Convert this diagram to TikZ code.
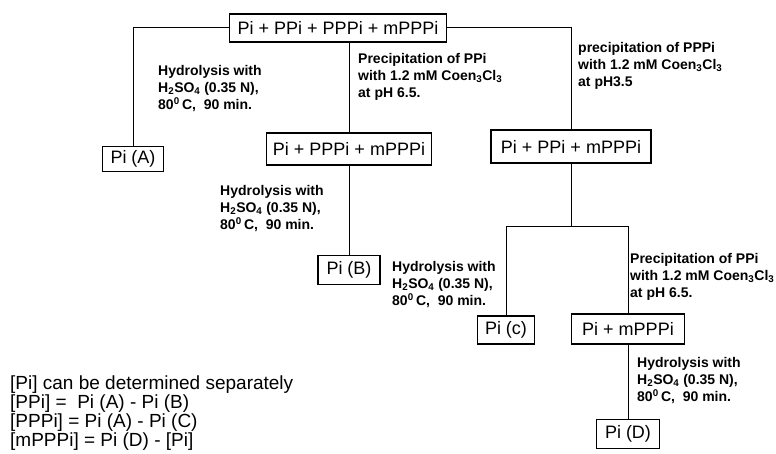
\documentclass[tikz,border=0pt]{standalone}
\usepackage{fontspec}
\setmainfont{Liberation Sans}
\usetikzlibrary{positioning}
\tikzset{
	box/.style={rectangle, draw=black, line width=1.1pt, inner sep=0pt, align=center, font=\fontsize{18}{18}\selectfont},
	note/.style={inner sep=0pt, anchor=north west, align=left, font=\fontsize{14}{17}\selectfont\bfseries},
	formula/.style={inner sep=0pt, anchor=north west, align=left, font=\fontsize{19}{17.5}\selectfont},
	wire/.style={line width=1pt, draw=black},
}
\newcommand{\hydro}{Hydrolysis with\\H\textsubscript{2}SO\textsubscript{4} (0.35 N),\\80\textsuperscript{0}\,C,\ \ 90 min.}

\begin{document}
\begin{tikzpicture}[x=1pt, y=-1pt]
		\useasboundingbox (0,0) rectangle (776,454);
		\node[box, minimum width=217pt, minimum height=28pt] (t) at (338,28) {Pi + PPi + PPPi + mPPPi};
		\node[box, minimum width=61pt, minimum height=25pt] (pa) at (133,159) {Pi (A)};
		\node[box, minimum width=165pt, minimum height=32pt] (b1) at (349,149) {Pi + PPPi + mPPPi};
		\node[box, minimum width=160pt, minimum height=33pt] (c1) at (571,146.5) {Pi + PPi + mPPPi};
		\node[box, minimum width=62pt, minimum height=29pt, below=89pt of b1] (pb) {Pi (B)};
		\node[box, minimum width=57pt, minimum height=28pt] (pc) at (506,330) {Pi (c)};
		\node[box, minimum width=113pt, minimum height=30pt] (d1) at (628,329) {Pi + mPPPi};
		\node[box, minimum width=63pt, minimum height=29pt, below=74pt of d1] (pd) {Pi (D)};
		\coordinate[below=63pt of c1.south] (split);
		\node[note] (h1) at (158,65) {\hydro};
		\node[note] (p1) at (358,53) {Precipitation of PPi\\with 1.2 mM Coen\textsubscript{3}Cl\textsubscript{3}\\at pH 6.5.};
		\node[note] (p2) at (578,42) {precipitation of PPPi\\with 1.2 mM Coen\textsubscript{3}Cl\textsubscript{3}\\at pH3.5};
		\node[note] (h2) at (220,185) {\hydro};
		\node[note] (h3) at (392,261) {\hydro};
		\node[note] (p3) at (630,253) {Precipitation of PPi\\with 1.2 mM Coen\textsubscript{3}Cl\textsubscript{3}\\at pH 6.5.};
		\node[note] (h4) at (637,357) {\hydro};
		\node[formula] (res) at (10,376) {[Pi] can be determined separately\\{}[PPi] =\ \ Pi (A) - Pi (B)\\{}[PPPi] = Pi (A) - Pi (C)\\{}[mPPPi] = Pi (D) - [Pi]};
		\draw[wire] (t.west) -| (pa.north);
		\draw[wire] (t.east) -| (c1.north);
		\draw[wire] (t.south -| b1.north) -- (b1.north);
		\draw[wire] (b1) -- (pb);
		\draw[wire] (c1) -- (split);
		\draw[wire] (pc.north) |- (split) -| (d1.north);
		\draw[wire] (d1) -- (pd);
	\end{tikzpicture}
\end{document}
